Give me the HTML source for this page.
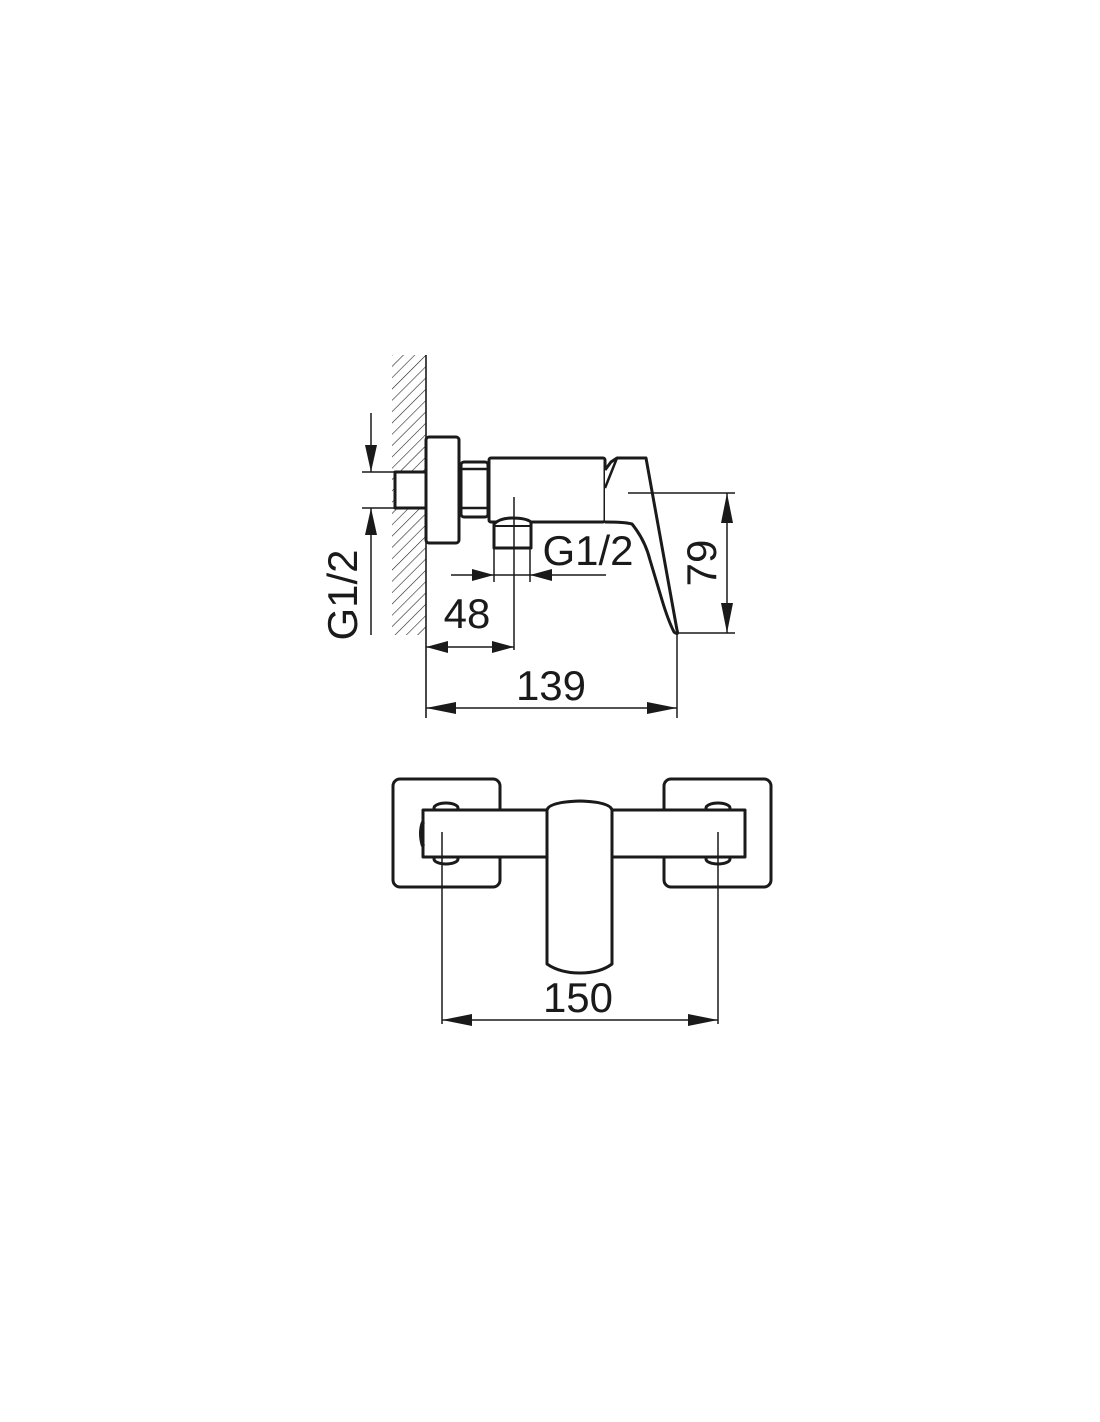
<!DOCTYPE html>
<html><head><meta charset="utf-8"><style>html,body{margin:0;padding:0;background:#fff}svg{display:block}</style></head>
<body>
<svg width="1100" height="1422" viewBox="0 0 1100 1422" xmlns="http://www.w3.org/2000/svg">
<defs>
<pattern id="h" width="8" height="8" patternUnits="userSpaceOnUse" patternTransform="rotate(45)"><line x1="0" y1="0" x2="0" y2="8" stroke="#222" stroke-width="1.2"/></pattern>
<clipPath id="hc"><polygon points="392,355 426,355 426,635 392,635"/></clipPath>
</defs>
<rect width="1100" height="1422" fill="#fff"/>
<g clip-path="url(#hc)"><rect x="380" y="340" width="60" height="310" fill="url(#h)"/></g>
<g fill="none" stroke="#1a1a1a" stroke-linejoin="round">
<line x1="426" y1="355" x2="426" y2="718" stroke-width="1.6"/>
<rect x="395" y="472" width="31" height="36" fill="#fff" stroke-width="3"/>
<rect x="426" y="437" width="33" height="106" rx="3" fill="#fff" stroke-width="3"/>
<rect x="461" y="462" width="27" height="55" rx="3" fill="#fff" stroke-width="3"/>
<line x1="461" y1="469" x2="488" y2="469" stroke-width="2.5"/>
<line x1="461" y1="508" x2="488" y2="508" stroke-width="2.5"/>
<rect x="489" y="458" width="116" height="64" rx="2" fill="#fff" stroke-width="3"/>
<path d="M605 470 L611 462 L617 458 L646 458 L677 630 Q679 636 674 632 Q668 620 662 600 L650 560 Q645 540 632 524 Q625 522 605 522" fill="#fff" stroke-width="3"/>
<path d="M605 488 L617 458" stroke-width="2.5"/>
<path d="M494 524 Q500 518 512 518 Q526 518 531 522 L531 548 L494 548 Z" fill="#fff" stroke-width="3"/>
<line x1="494" y1="526" x2="531" y2="526" stroke-width="2"/>
<g stroke-width="1.5">
<line x1="514" y1="497" x2="514" y2="650"/>
<line x1="451" y1="575" x2="606" y2="575"/>
<line x1="494" y1="548" x2="494" y2="582"/>
<line x1="530" y1="548" x2="530" y2="582"/>
<line x1="426" y1="647" x2="514" y2="647"/>
<line x1="426" y1="708" x2="677" y2="708"/>
<line x1="677" y1="633" x2="677" y2="718"/>
<line x1="628" y1="493" x2="735" y2="493"/>
<line x1="677" y1="633" x2="735" y2="633"/>
<line x1="727" y1="493" x2="727" y2="633"/>
<line x1="371" y1="413" x2="371" y2="472"/>
<line x1="371" y1="508" x2="371" y2="635"/>
<line x1="362" y1="472" x2="395" y2="472"/>
<line x1="362" y1="508" x2="395" y2="508"/>
</g>
</g>
<g fill="#1a1a1a">
<polygon points="494,575 472,569 472,581"/>
<polygon points="530,575 552,569 552,581"/>
<polygon points="426,647 448,641 448,653"/>
<polygon points="514,647 492,641 492,653"/>
<polygon points="426,708 456,702 456,714"/>
<polygon points="677,708 647,702 647,714"/>
<polygon points="727,493 721,523 733,523"/>
<polygon points="727,633 721,603 733,603"/>
<polygon points="371,472 365,445 377,445"/>
<polygon points="371,508 365,535 377,535"/>
</g>
<g font-family="Liberation Sans, sans-serif" fill="#1a1a1a" font-size="42">
<text x="588" y="565" text-anchor="middle">G1/2</text>
<text x="467" y="628" text-anchor="middle">48</text>
<text x="551" y="700" text-anchor="middle">139</text>
<text transform="translate(716,563) rotate(-90)" text-anchor="middle">79</text>
<text transform="translate(357,595) rotate(-90)" text-anchor="middle">G1/2</text>
<text x="578" y="1012" text-anchor="middle">150</text>
</g>
<g fill="none" stroke="#1a1a1a" stroke-width="3" stroke-linejoin="round">
<rect x="393" y="779" width="107" height="108" rx="7"/>
<rect x="664" y="779" width="107" height="108" rx="7"/>
<ellipse cx="446" cy="808" rx="12" ry="5" fill="#fff"/>
<ellipse cx="446" cy="859" rx="12" ry="5" fill="#fff"/>
<ellipse cx="718" cy="808" rx="12" ry="5" fill="#fff"/>
<ellipse cx="718" cy="859" rx="12" ry="5" fill="#fff"/>
<rect x="423" y="810" width="322" height="47" fill="#fff"/>
<path d="M423 822 Q419 833 423 846" stroke-width="4"/>
<path d="M547 810 Q549 802 580 801 Q610 802 612 810 L612 964 Q600 973 580 973 Q560 973 547 964 Z" fill="#fff"/>
</g>
<g stroke="#1a1a1a" stroke-width="1.5">
<line x1="442" y1="832" x2="442" y2="1024"/>
<line x1="718" y1="832" x2="718" y2="1024"/>
<line x1="442" y1="1020" x2="718" y2="1020"/>
</g>
<g fill="#1a1a1a">
<polygon points="442,1020 472,1014 472,1026"/>
<polygon points="718,1020 688,1014 688,1026"/>
</g>
</svg>
</body></html>
